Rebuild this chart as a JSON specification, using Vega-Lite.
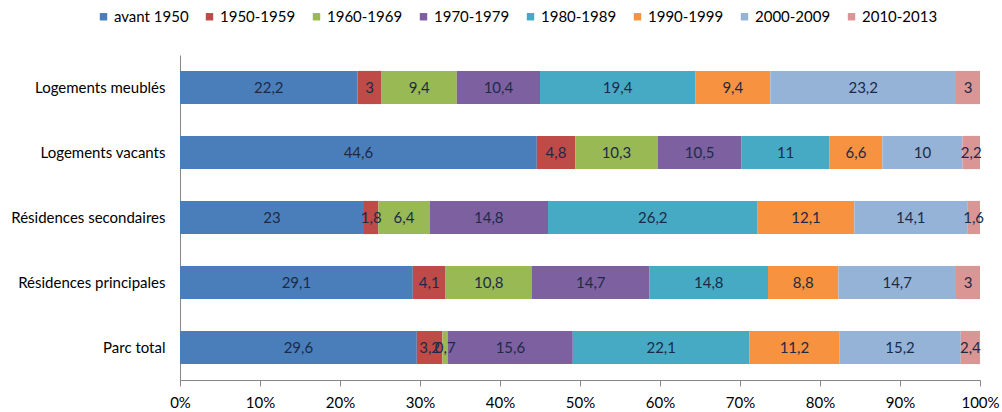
{
  "$schema": "https://vega.github.io/schema/vega-lite/v6.json",
  "width": 800,
  "height": 325,
  "autosize": {"type": "none"},
  "padding": {"left": 180, "top": 55, "right": 22, "bottom": 32},
  "background": "white",
  "config": {
    "view": {"stroke": null},
    "font": "Lato",
    "locale": {"number": {"decimal": ",", "thousands": " ", "grouping": [3], "currency": ["", " €"]}}
  },
  "data": {"values": [
    {"cat": "Logements meublés", "p": "avant 1950", "o": 1, "v": 22.2},
    {"cat": "Logements meublés", "p": "1950-1959", "o": 2, "v": 3},
    {"cat": "Logements meublés", "p": "1960-1969", "o": 3, "v": 9.4},
    {"cat": "Logements meublés", "p": "1970-1979", "o": 4, "v": 10.4},
    {"cat": "Logements meublés", "p": "1980-1989", "o": 5, "v": 19.4},
    {"cat": "Logements meublés", "p": "1990-1999", "o": 6, "v": 9.4},
    {"cat": "Logements meublés", "p": "2000-2009", "o": 7, "v": 23.2},
    {"cat": "Logements meublés", "p": "2010-2013", "o": 8, "v": 3},
    {"cat": "Logements vacants", "p": "avant 1950", "o": 1, "v": 44.6},
    {"cat": "Logements vacants", "p": "1950-1959", "o": 2, "v": 4.8},
    {"cat": "Logements vacants", "p": "1960-1969", "o": 3, "v": 10.3},
    {"cat": "Logements vacants", "p": "1970-1979", "o": 4, "v": 10.5},
    {"cat": "Logements vacants", "p": "1980-1989", "o": 5, "v": 11},
    {"cat": "Logements vacants", "p": "1990-1999", "o": 6, "v": 6.6},
    {"cat": "Logements vacants", "p": "2000-2009", "o": 7, "v": 10},
    {"cat": "Logements vacants", "p": "2010-2013", "o": 8, "v": 2.2},
    {"cat": "Résidences secondaires", "p": "avant 1950", "o": 1, "v": 23},
    {"cat": "Résidences secondaires", "p": "1950-1959", "o": 2, "v": 1.8},
    {"cat": "Résidences secondaires", "p": "1960-1969", "o": 3, "v": 6.4},
    {"cat": "Résidences secondaires", "p": "1970-1979", "o": 4, "v": 14.8},
    {"cat": "Résidences secondaires", "p": "1980-1989", "o": 5, "v": 26.2},
    {"cat": "Résidences secondaires", "p": "1990-1999", "o": 6, "v": 12.1},
    {"cat": "Résidences secondaires", "p": "2000-2009", "o": 7, "v": 14.1},
    {"cat": "Résidences secondaires", "p": "2010-2013", "o": 8, "v": 1.6},
    {"cat": "Résidences principales", "p": "avant 1950", "o": 1, "v": 29.1},
    {"cat": "Résidences principales", "p": "1950-1959", "o": 2, "v": 4.1},
    {"cat": "Résidences principales", "p": "1960-1969", "o": 3, "v": 10.8},
    {"cat": "Résidences principales", "p": "1970-1979", "o": 4, "v": 14.7},
    {"cat": "Résidences principales", "p": "1980-1989", "o": 5, "v": 14.8},
    {"cat": "Résidences principales", "p": "1990-1999", "o": 6, "v": 8.8},
    {"cat": "Résidences principales", "p": "2000-2009", "o": 7, "v": 14.7},
    {"cat": "Résidences principales", "p": "2010-2013", "o": 8, "v": 3},
    {"cat": "Parc total", "p": "avant 1950", "o": 1, "v": 29.6},
    {"cat": "Parc total", "p": "1950-1959", "o": 2, "v": 3.2},
    {"cat": "Parc total", "p": "1960-1969", "o": 3, "v": 0.7},
    {"cat": "Parc total", "p": "1970-1979", "o": 4, "v": 15.6},
    {"cat": "Parc total", "p": "1980-1989", "o": 5, "v": 22.1},
    {"cat": "Parc total", "p": "1990-1999", "o": 6, "v": 11.2},
    {"cat": "Parc total", "p": "2000-2009", "o": 7, "v": 15.2},
    {"cat": "Parc total", "p": "2010-2013", "o": 8, "v": 2.4}
  ]},
  "transform": [
    {"stack": "v", "groupby": ["cat"], "sort": [{"field": "o", "order": "ascending"}], "offset": "normalize", "as": ["x0", "x1"]}
  ],
  "encoding": {
    "y": {
      "field": "cat", "type": "nominal", "title": null,
      "sort": ["Logements meublés", "Logements vacants", "Résidences secondaires", "Résidences principales", "Parc total"],
      "scale": {"paddingInner": 0.49, "paddingOuter": 0.245},
      "axis": {"ticks": false, "labelFontSize": 15, "labelColor": "#000000", "labelPadding": 15, "domainColor": "#868686"}
    }
  },
  "layer": [
    {
      "mark": {"type": "bar"},
      "encoding": {
        "x": {
          "field": "x0", "type": "quantitative", "title": null,
          "scale": {"domain": [0, 1], "nice": false},
          "axis": {"format": ".0%", "values": [0, 0.1, 0.2, 0.3, 0.4, 0.5, 0.6, 0.7, 0.8, 0.9, 1], "grid": false, "labelFontSize": 15, "labelColor": "#000000", "domainColor": "#868686", "tickColor": "#868686", "tickSize": 6, "labelPadding": 9, "labelFlush": false, "labelOverlap": false}
        },
        "x2": {"field": "x1"},
        "color": {
          "field": "p", "type": "nominal",
          "sort": ["avant 1950", "1950-1959", "1960-1969", "1970-1979", "1980-1989", "1990-1999", "2000-2009", "2010-2013"],
          "scale": {
            "domain": ["avant 1950", "1950-1959", "1960-1969", "1970-1979", "1980-1989", "1990-1999", "2000-2009", "2010-2013"],
            "range": ["#4a7ebb", "#be4b48", "#98b954", "#7d60a0", "#46aac5", "#f69240", "#95b3d7", "#d99694"]
          },
          "legend": {
            "title": null, "orient": "none", "direction": "horizontal", "columns": 8,
            "legendX": -84, "legendY": -46,
            "symbolType": "square", "symbolSize": 55, "symbolStrokeWidth": 0,
            "labelFontSize": 15, "labelColor": "#000000", "labelOffset": 3, "columnPadding": 13
          }
        }
      }
    },
    {
      "transform": [
        {"fold": ["x0", "x1"], "as": ["k", "xv"]},
        {"aggregate": [{"op": "mean", "field": "xv", "as": "mid"}, {"op": "max", "field": "v", "as": "v"}], "groupby": ["cat", "p"]}
      ],
      "mark": {"type": "text", "fontSize": 15, "color": "#1c2a48", "align": "center", "baseline": "middle"},
      "encoding": {
        "x": {"field": "mid", "type": "quantitative"},
        "text": {"field": "v", "type": "quantitative", "format": ".1~f"}
      }
    }
  ]
}
